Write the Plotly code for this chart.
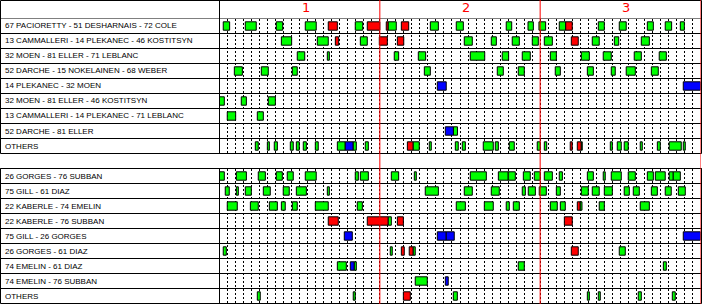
import plotly.graph_objects as go

# ---- data: shifts as (start_sec, end_sec, situation) ; E=even(green) P=penalty kill(red) W=power play(blue)
FWD_LABELS = [
    "67 PACIORETTY - 51 DESHARNAIS - 72 COLE",
    "13 CAMMALLERI - 14 PLEKANEC - 46 KOSTITSYN",
    "32 MOEN - 81 ELLER - 71 LEBLANC",
    "52 DARCHE - 15 NOKELAINEN - 68 WEBER",
    "14 PLEKANEC - 32 MOEN",
    "32 MOEN - 81 ELLER - 46 KOSTITSYN",
    "13 CAMMALLERI - 14 PLEKANEC - 71 LEBLANC",
    "52 DARCHE - 81 ELLER",
    "OTHERS",
]
DEF_LABELS = [
    "26 GORGES - 76 SUBBAN",
    "75 GILL - 61 DIAZ",
    "22 KABERLE - 74 EMELIN",
    "22 KABERLE - 76 SUBBAN",
    "75 GILL - 26 GORGES",
    "26 GORGES - 61 DIAZ",
    "74 EMELIN - 61 DIAZ",
    "74 EMELIN - 76 SUBBAN",
    "OTHERS",
]
PERIOD_LABELS = ["1", "2", "3"]
PERIOD_ENDS = [1200, 2400, 3600]

F1 = [(28, 76, "E"), (193, 275, "E"), (425, 473, "E"), (642, 724, "E"), (814, 882, "P"),
      (1016, 1072, "E"), (1106, 1200, "P"), (1248, 1263, "P"), (1263, 1323, "E"), (1361, 1416, "P"),
      (1578, 1638, "E"), (1772, 1825, "E"), (2146, 2187, "E"), (2309, 2349, "E"), (2391, 2441, "E"),
      (2543, 2591, "E"), (2591, 2640, "P"), (2835, 2880, "E"), (2992, 3044, "E"), (3202, 3247, "E"),
      (3336, 3384, "E"), (3449, 3479, "E")]
F2 = [(463, 540, "E"), (732, 814, "E"), (867, 892, "P"), (1054, 1106, "E"), (1196, 1256, "P"),
      (1331, 1379, "P"), (1832, 1892, "E"), (2034, 2072, "E"), (2191, 2244, "E"), (2341, 2386, "E"),
      (2431, 2491, "E"), (2633, 2685, "P"), (2790, 2842, "E"), (2955, 2988, "E"), (3157, 3217, "E")]
F3 = [(582, 638, "E"), (807, 822, "E"), (1308, 1341, "E"), (1488, 1543, "E"), (1877, 1985, "E"),
      (2116, 2164, "E"), (2266, 2326, "E"), (2476, 2521, "E"), (2708, 2768, "E"), (2872, 2932, "E"),
      (3104, 3157, "E"), (3291, 3344, "E")]
F4 = [(111, 171, "E"), (313, 365, "E"), (545, 582, "E"), (1533, 1578, "E"), (2079, 2124, "E"),
      (2236, 2281, "E"), (2513, 2551, "E"), (2753, 2798, "E"), (2932, 2962, "E"), (3044, 3112, "E"),
      (3232, 3284, "E")]
F5 = [(1630, 1697, "W"), (3471, 3600, "W")]
F6 = [(0, 36, "E"), (163, 201, "E"), (365, 418, "E")]
F7 = [(58, 121, "E"), (283, 328, "E")]
F8 = [(1690, 1751, "W"), (1751, 1781, "E")]
F9 = [(268, 290, "E"), (358, 373, "E"), (410, 433, "E"), (530, 552, "E"), (575, 597, "E"),
      (627, 650, "E"), (717, 739, "E"), (882, 941, "E"), (941, 1001, "W"), (1001, 1024, "E"),
      (1091, 1114, "E"), (1406, 1450, "P"), (1450, 1495, "E"), (1570, 1585, "E"), (1765, 1787, "E"),
      (1817, 1840, "E"), (1974, 2049, "E"), (2064, 2087, "E"), (2169, 2206, "E"), (2378, 2401, "E"),
      (2431, 2449, "E"), (2625, 2640, "P"), (2678, 2708, "P"), (2708, 2715, "E"), (2925, 2940, "E"),
      (2977, 3007, "E"), (3029, 3059, "E"), (3149, 3164, "E"), (3277, 3299, "E"), (3366, 3456, "E"),
      (3471, 3486, "E")]

D1 = [(0, 36, "E"), (126, 201, "E"), (290, 343, "E"), (425, 470, "E"), (507, 552, "E"),
      (642, 724, "E"), (1016, 1039, "E"), (1054, 1114, "E"), (1286, 1341, "E"), (1458, 1473, "E"),
      (1877, 1997, "E"), (2087, 2161, "E"), (2161, 2214, "E"), (2274, 2326, "E"), (2356, 2401, "E"),
      (2431, 2491, "E"), (2543, 2566, "E"), (2753, 2798, "E"), (2872, 2887, "E"), (2932, 3007, "E"),
      (3059, 3112, "E"), (3202, 3247, "E"), (3262, 3336, "E"), (3366, 3396, "E"), (3396, 3449, "E")]
D2 = [(43, 73, "E"), (126, 141, "E"), (193, 238, "E"), (328, 380, "E"), (477, 522, "E"),
      (575, 650, "E"), (807, 822, "E"), (1540, 1638, "E"), (1832, 1892, "E"), (2034, 2094, "E"),
      (2266, 2289, "E"), (2311, 2364, "E"), (2393, 2446, "E"), (2521, 2551, "E"), (2708, 2760, "E"),
      (2790, 2842, "E"), (2880, 2940, "E"), (3029, 3067, "E"), (3097, 3142, "E"), (3232, 3277, "E"),
      (3336, 3381, "E"), (3434, 3486, "E")]
D3 = [(58, 133, "E"), (231, 290, "E"), (373, 433, "E"), (463, 492, "E"), (545, 582, "E"),
      (717, 814, "E"), (1031, 1069, "E"), (1772, 1840, "E"), (1982, 2049, "E"), (2146, 2169, "E"),
      (2199, 2244, "E"), (2476, 2528, "E"), (2551, 2588, "E"), (2678, 2700, "P"), (2700, 2713, "E"),
      (2842, 2880, "E"), (3149, 3217, "E")]
D4 = [(814, 889, "P"), (1106, 1263, "P"), (1263, 1286, "E"), (1331, 1376, "P"), (2581, 2640, "P")]
D5 = [(934, 994, "W"), (1630, 1697, "W"), (1697, 1757, "W"), (3471, 3600, "W")]
D6 = [(28, 51, "E"), (1278, 1293, "E"), (1361, 1383, "P"), (1420, 1450, "P"), (1450, 1465, "E"),
      (2633, 2685, "P"), (2992, 3037, "E")]
D7 = [(882, 949, "E"), (979, 1009, "W"), (1009, 1024, "E"), (2236, 2281, "E"), (3322, 3344, "E")]
D8 = [(1465, 1555, "E"), (1690, 1712, "W")]
D9 = [(283, 305, "E"), (1001, 1016, "E"), (1376, 1428, "P"), (1750, 1780, "E"), (2753, 2768, "E"),
      (2835, 2850, "E"), (3134, 3157, "E"), (3389, 3411, "E")]

FWD_ROWS = [F1, F2, F3, F4, F5, F6, F7, F8, F9]
DEF_ROWS = [D1, D2, D3, D4, D5, D6, D7, D8, D9]

COLORS = {"E": "#00FF00", "P": "#FF0000", "W": "#0000FF"}

W, H = 702, 304
LEFT, RIGHT = 219.5, 700.5          # plot area in pixels
SEC_TOP = [(0.5, 18.5, 153.5), (168.5, 168.5, 303.5)]  # (box top, rows top, rows bottom)

def py(p):
    return 1 - p / H

fig = go.Figure()
sections = [(FWD_ROWS, FWD_LABELS, "x", "y"), (DEF_ROWS, DEF_LABELS, "x2", "y2")]
for rows, labels, xa, ya in sections:
    ys, bases, lens, cols = [], [], [], []
    for i, row in enumerate(rows):
        for s, e, k in row:
            ys.append(i)
            bases.append(s)
            lens.append(e - s)
            cols.append(COLORS[k])
    fig.add_trace(go.Bar(
        orientation="h", y=ys, x=lens, base=bases, width=0.56,
        marker=dict(color=cols, line=dict(color="black", width=1)),
        xaxis=xa, yaxis=ya, showlegend=False, hoverinfo="skip",
    ))

axis_x = dict(domain=[LEFT / W, RIGHT / W], range=[0, 3600], showgrid=True, dtick=60, tick0=0,
              gridcolor="black", griddash="2px,2px", gridwidth=1, showticklabels=False,
              zeroline=False, showline=False, ticks="")
axis_y = dict(range=[8.5, -0.5], showgrid=False, showticklabels=False, zeroline=False,
              showline=False, ticks="")

shapes = []
annotations = []
for si, (rows, labels, xa, ya) in enumerate(sections):
    top, rtop, rbot = SEC_TOP[si]
    yref = ya
    # outer box
    shapes.append(dict(type="rect", xref="paper", yref="paper", x0=0.5 / W, x1=701.5 / W,
                       y0=py(rbot), y1=py(top), line=dict(color="black", width=1), layer="above"))
    # row separators
    for k in range(len(rows)):
        shapes.append(dict(type="line", xref="paper", yref=yref, x0=0, x1=1,
                           y0=k - 0.5, y1=k - 0.5, line=dict(color="black", width=1), layer="above"))
    # label column divider
    shapes.append(dict(type="line", xref="paper", yref="paper", x0=LEFT / W, x1=LEFT / W,
                       y0=py(rbot), y1=py(top), line=dict(color="black", width=1), layer="above"))
    for i, lab in enumerate(labels):
        annotations.append(dict(text=lab, xref="paper", yref=yref, x=3 / W, y=i, xanchor="left",
                                yanchor="middle", showarrow=False,
                                font=dict(family="Liberation Sans", size=8, color="black")))

for pe in PERIOD_ENDS:
    shapes.append(dict(type="line", xref="x", yref="paper", x0=pe, x1=pe, y0=0, y1=1,
                       line=dict(color="#FF0000", width=1), layer="above"))
for lab, pe in zip(PERIOD_LABELS, PERIOD_ENDS):
    annotations.append(dict(text=lab, xref="x", yref="paper", x=pe - 600, y=py(8), xanchor="left",
                            yanchor="middle", showarrow=False,
                            font=dict(family="DejaVu Sans", size=13, color="#FF0000")))

fig.update_layout(
    width=W, height=H, margin=dict(l=0, r=0, t=0, b=0),
    paper_bgcolor="white", plot_bgcolor="white", barmode="overlay",
    xaxis=dict(axis_x, anchor="y"),
    xaxis2=dict(axis_x, anchor="y2"),
    yaxis=dict(axis_y, domain=[py(SEC_TOP[0][2]), py(SEC_TOP[0][1])], anchor="x"),
    yaxis2=dict(axis_y, domain=[py(SEC_TOP[1][2]), py(SEC_TOP[1][1])], anchor="x2"),
    shapes=shapes, annotations=annotations,
)

fig.write_html("out.html")
